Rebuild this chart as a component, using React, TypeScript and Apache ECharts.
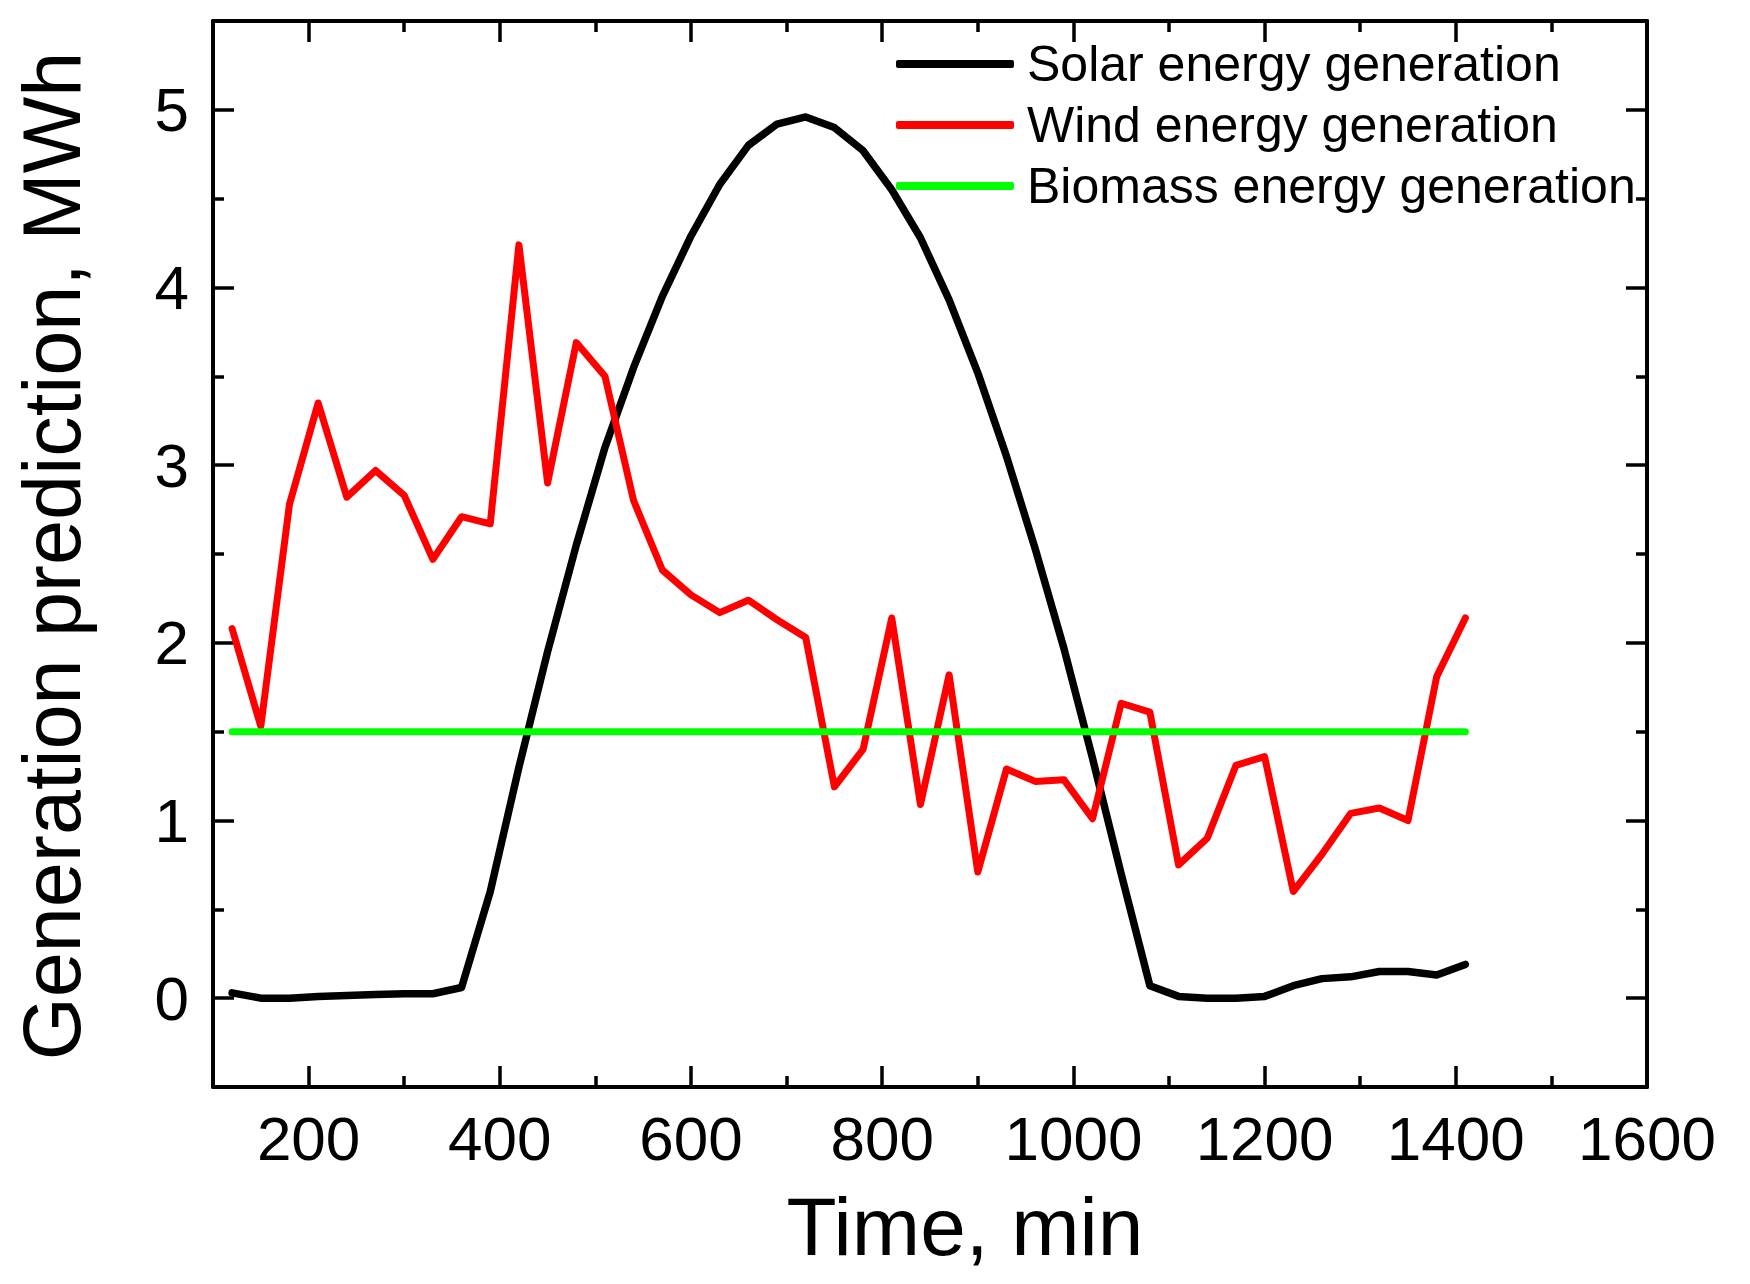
import React from "react";
import * as echarts from "echarts";

// time axis, minutes (one sample every 30 min)
const times = [
  120, 150, 180, 210, 240, 270, 300, 330, 360, 390, 420, 450, 480, 510, 540,
  570, 600, 630, 660, 690, 720, 750, 780, 810, 840, 870, 900, 930, 960, 990,
  1020, 1050, 1080, 1110, 1140, 1170, 1200, 1230, 1260, 1290, 1320, 1350,
  1380, 1410,
];

const solar = [
  0.03, 0.0, 0.0, 0.01, 0.015, 0.02, 0.025, 0.025, 0.06, 0.6, 1.3, 1.95, 2.55,
  3.1, 3.55, 3.95, 4.29, 4.58, 4.8, 4.92, 4.96, 4.9, 4.77, 4.55, 4.28, 3.93,
  3.52, 3.05, 2.53, 1.97, 1.35, 0.7, 0.07, 0.01, 0.0, 0.0, 0.01, 0.07, 0.11,
  0.12, 0.15, 0.15, 0.13, 0.19,
];

const wind = [
  2.08, 1.53, 2.78, 3.35, 2.82, 2.97, 2.83, 2.47, 2.71, 2.67, 4.24, 2.9, 3.69,
  3.5, 2.8, 2.41, 2.27, 2.17, 2.24, 2.13, 2.03, 1.19, 1.4, 2.14, 1.09, 1.82,
  0.71, 1.29, 1.22, 1.23, 1.01, 1.66, 1.61, 0.75, 0.9, 1.31, 1.36, 0.6, 0.81,
  1.04, 1.07, 1.0, 1.81, 2.14,
];

const biomass = times.map(() => 1.5);

const xMajor = [200, 400, 600, 800, 1000, 1200, 1400, 1600];
const xMinor = [100, 300, 500, 700, 900, 1100, 1300, 1500];
const yMajor = [0, 1, 2, 3, 4, 5];
const yMinor = [-0.5, 0.5, 1.5, 2.5, 3.5, 4.5, 5.5];

const seriesNames = [
  "Solar energy generation",
  "Wind energy generation",
  "Biomass energy generation",
];

const FONT = "'Liberation Sans', Arial, Helvetica, sans-serif";

export default function App() {
  const ref = React.useRef<HTMLDivElement>(null);

  React.useEffect(() => {
    document.body.style.margin = "0";
    if (!ref.current) return;
    const chart = echarts.init(ref.current, null, { renderer: "svg" });

    const line = { color: "#000", width: 4 };
    const mkX = (pos: "bottom" | "top", ticks: number[], len: number, labels: boolean, showLine: boolean) => ({
      type: "value",
      position: pos,
      min: 100,
      max: 1600,
      splitLine: { show: false },
      axisLine: { show: showLine, onZero: false, lineStyle: line },
      axisTick: {
        show: true,
        inside: true,
        length: len,
        customValues: ticks,
        lineStyle: { color: "#000", width: 3.5 },
      },
      axisLabel: labels
        ? {
            show: true,
            customValues: xMajor,
            formatter: (v: number) => String(v),
            margin: 20,
            fontSize: 62,
            fontFamily: FONT,
            color: "#000",
          }
        : { show: false },
    });
    const mkY = (pos: "left" | "right", ticks: number[], len: number, labels: boolean, showLine: boolean) => ({
      type: "value",
      position: pos,
      min: -0.5,
      max: 5.5,
      splitLine: { show: false },
      axisLine: { show: showLine, onZero: false, lineStyle: line },
      axisTick: {
        show: true,
        inside: true,
        length: len,
        customValues: ticks,
        lineStyle: { color: "#000", width: 3.5 },
      },
      axisLabel: labels
        ? {
            show: true,
            customValues: yMajor,
            formatter: (v: number) => String(v),
            margin: 24,
            fontSize: 62,
            fontFamily: FONT,
            color: "#000",
          }
        : { show: false },
    });

    const pairs = (vals: number[]) => times.map((t, i) => [t, vals[i]]);
    const lineSeries = (name: string, vals: number[], color: string, width: number) => ({
      name,
      type: "line",
      data: pairs(vals),
      xAxisIndex: 0,
      yAxisIndex: 0,
      showSymbol: false,
      symbol: "none",
      lineStyle: { color, width, cap: "round", join: "round" },
      itemStyle: { color },
    });

    const option: any = {
      animation: false,
      backgroundColor: "#fff",
      grid: { left: 213, top: 21, right: 103, bottom: 197, containLabel: false },
      xAxis: [
        mkX("bottom", xMajor, 21, true, true),
        mkX("bottom", xMinor, 11, false, false),
        mkX("top", xMajor, 21, false, true),
        mkX("top", xMinor, 11, false, false),
      ],
      yAxis: [
        mkY("left", yMajor, 21, true, true),
        mkY("left", yMinor, 11, false, false),
        mkY("right", yMajor, 21, false, true),
        mkY("right", yMinor, 11, false, false),
      ],
      legend: {
        data: seriesNames,
        orient: "vertical",
        left: 891,
        top: 34,
        itemWidth: 118,
        itemHeight: 8,
        itemGap: 11,
        icon: "roundRect",
        textStyle: {
          fontSize: 50,
          lineHeight: 50,
          fontFamily: FONT,
          color: "#000",
          padding: [0, 0, 0, 8],
        },
      },
      graphic: [
        {
          type: "text",
          x: 965,
          y: 1226,
          style: {
            text: "Time, min",
            fontSize: 82,
            fontFamily: FONT,
            fill: "#000",
            align: "center",
            verticalAlign: "middle",
          },
        },
        {
          type: "text",
          x: 52,
          y: 556,
          rotation: Math.PI / 2,
          style: {
            text: "Generation prediction, MWh",
            fontSize: 81,
            fontFamily: FONT,
            fill: "#000",
            align: "center",
            verticalAlign: "middle",
          },
        },
      ],
      series: [
        lineSeries(seriesNames[0], solar, "#000000", 7.5),
        lineSeries(seriesNames[1], wind, "#ff0000", 7),
        lineSeries(seriesNames[2], biomass, "#00ff00", 7),
      ],
    };

    chart.setOption(option);
    return () => chart.dispose();
  }, []);

  return <div ref={ref} style={{ width: 1750, height: 1284, background: "#fff" }} />;
}
